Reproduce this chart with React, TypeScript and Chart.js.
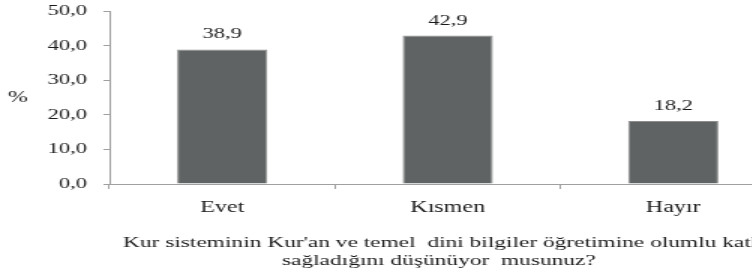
import React, { useEffect, useRef } from "react";
import { Chart, registerables } from "chart.js";

Chart.register(...registerables);

const categories = ["Evet", "Kısmen", "Hayır"];
const values = [38.9, 42.9, 18.2];
const yAxisLabel = "%";
const titleLines = [
  "Kur sisteminin Kur'an ve temel  dini bilgiler öğretimine olumlu katkı",
  "sağladığını düşünüyor  musunuz?",
];

const FONT = "'Liberation Serif', 'Times New Roman', serif";
const AXIS = "#a0a0a0";
const TEXT = "#1a1a1a";
const fmt = (v: number) => v.toFixed(1).replace(".", ",");

export default function App() {
  const ref = useRef<HTMLCanvasElement | null>(null);

  useEffect(() => {
    if (!ref.current) return;
    const labelsPlugin = {
      id: "extras",
      afterDatasetsDraw(chart: any) {
        const ctx = chart.ctx;
        const area = chart.chartArea;
        ctx.save();
        ctx.fillStyle = TEXT;
        ctx.font = `15px ${FONT}`;
        ctx.textAlign = "center";
        ctx.textBaseline = "alphabetic";
        const meta = chart.getDatasetMeta(0);
        meta.data.forEach((bar: any, i: number) => {
          ctx.fillText(fmt(values[i]), bar.x, bar.y - 11);
        });
        ctx.textBaseline = "middle";
        ctx.font = `16px ${FONT}`;
        ctx.fillText(yAxisLabel, 12, (area.top + area.bottom) / 2);
        ctx.font = `15.6px ${FONT}`;
        ctx.textAlign = "left";
        ctx.fillText(titleLines[0], 82, area.bottom + 59);
        ctx.fillText(titleLines[1], 188, area.bottom + 77);
        ctx.restore();
      },
    };

    const chart = new Chart(ref.current, {
      type: "bar",
      data: {
        labels: categories,
        datasets: [
          {
            data: values,
            backgroundColor: "#5f6363",
            borderColor: "#8e8e8e",
            borderWidth: 1,
            barPercentage: 0.4,
            categoryPercentage: 1,
          },
        ],
      },
      options: {
        animation: false,
        responsive: false,
        devicePixelRatio: 1,
        layout: { padding: { top: 11, right: 6, left: 0, bottom: 0 } },
        plugins: { legend: { display: false }, tooltip: { enabled: false } },
        scales: {
          x: {
            afterFit: (s: any) => {
              s.height = 92;
              s.paddingLeft = 0;
              s.paddingRight = 0;
            },
            grid: {
              offset: true,
              drawOnChartArea: false,
              drawTicks: true,
              tickLength: 5,
              color: AXIS,
            },
            border: { color: AXIS },
            ticks: {
              color: TEXT,
              font: { family: FONT, size: 16 },
              padding: 9,
            },
          },
          y: {
            min: 0,
            max: 50,
            afterFit: (s: any) => {
              s.width = 73;
              s.paddingTop = 0;
              s.paddingBottom = 0;
            },
            grid: {
              drawOnChartArea: false,
              drawTicks: true,
              tickLength: 4,
              color: AXIS,
            },
            border: { color: AXIS },
            ticks: {
              stepSize: 10,
              color: TEXT,
              font: { family: FONT, size: 15 },
              padding: 11,
              callback: (v: any) => fmt(Number(v)),
            },
          },
        },
      },
      plugins: [labelsPlugin],
    });
    return () => chart.destroy();
  }, []);

  return (
    <div
      style={{
        position: "fixed",
        left: 0,
        top: 0,
        width: 752,
        height: 276,
        overflow: "hidden",
        background: "#fff",
      }}
    >
      <canvas ref={ref} width={530} height={276} style={{ width: "795px", height: "276px" }} />
    </div>
  );
}
